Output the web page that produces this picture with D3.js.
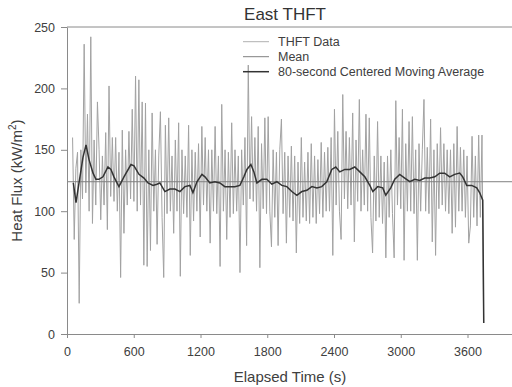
<!DOCTYPE html>
<html>
<head>
<meta charset="utf-8">
<script src="https://cdn.jsdelivr.net/npm/d3@7"></script>
<style>
  body { margin: 0; background: #fff; }
  svg { display: block; font-family: "Liberation Sans", Arial, sans-serif; }
</style>
</head>
<body>
<svg id="chart" width="512" height="387"></svg>
<script>
// THFT samples: first sample time and sampling step (s), values in kW/m2
const thftStart = 50;
const thftStep = 14.9;
const thftValues = [
  160, 77, 135, 148, 25, 150,   110, 236, 115, 179, 100, 242,
  90, 158, 105, 189, 150, 93,   145, 105, 164, 85, 202, 112,
  160, 108, 160, 100, 148, 46,  166, 82, 150, 105, 165, 110,
  183, 108, 210, 100, 207, 105, 189, 56, 188, 55, 150, 68,
  180, 100, 150, 73, 145, 181,  95, 46, 170, 98, 176, 100,
  145, 82, 158, 100, 172, 47,   150, 98, 145, 95, 170, 64,
  150, 92, 148, 100, 155, 79,   169, 105, 160, 100, 150, 74,
  150, 100, 169, 98, 145, 55,   187, 100, 150, 77, 148, 95,
  172, 98, 150, 100, 145, 50,   150, 105, 160, 72, 219, 110,
  177, 108, 160, 100, 169, 54,  155, 102, 176, 98, 177, 100,
  71, 150, 95, 148, 72, 150,    175, 98, 148, 74, 145, 95,
  153, 92, 145, 66, 140, 90,    160, 95, 140, 92, 148, 90,
  155, 95, 145, 90, 142, 98,    156, 95, 148, 100, 152, 100,
  160, 64, 183, 105, 165, 100,  77, 195, 110, 165, 102, 160,
  105, 180, 75, 158, 108, 191,  100, 150, 105, 179, 100, 176,
  95, 66, 145, 92, 173, 95,     145, 90, 140, 62, 145, 95,
  150, 98, 62, 190, 105, 160,   102, 183, 60, 155, 100, 173,
  100, 177, 98, 150, 60, 155,   100, 150, 191, 100, 152, 98,
  175, 75, 150, 64, 155, 102,   168, 105, 155, 100, 150, 98,
  150, 82, 155, 87, 169, 100,   152, 100, 150, 95, 145, 74,
  88, 161, 95, 145, 88, 162,    95, 162, 9
];

// 80-second centered moving average
const maTimes = [57, 81, 108, 144, 171, 198, 234, 260, 287, 323, 368, 395, 422, 467, 512,
  575, 602, 647, 692, 728, 773, 808, 835, 880, 925, 970, 1015, 1060, 1105, 1132, 1168,
  1213, 1240, 1284, 1329, 1374, 1419, 1464, 1509, 1554, 1590, 1617, 1653, 1680, 1707,
  1752, 1796, 1841, 1886, 1931, 1976, 2021, 2066, 2111, 2156, 2201, 2246, 2290, 2335,
  2380, 2416, 2452, 2497, 2542, 2587, 2632, 2677, 2722, 2749, 2793, 2838, 2865, 2910,
  2946, 2991, 3036, 3081, 3126, 3171, 3216, 3261, 3306, 3350, 3395, 3440, 3485, 3530,
  3557, 3593, 3638, 3683, 3710, 3737, 3746];
const maValues = [123, 107, 123, 144, 154, 142, 131, 126, 126, 128, 136, 134, 128, 120, 128,
  138, 137, 130, 127, 123, 121, 122, 123, 116, 118, 118, 116, 120, 121, 115, 124,
  130, 128, 123, 124, 123, 120, 120, 120, 121, 128, 134, 138, 132, 123,
  126, 126, 122, 124, 121, 120, 116, 113, 116, 117, 120, 119, 120, 124,
  134, 136, 132, 134, 134, 136, 132, 128, 121, 116, 120, 119, 113, 119,
  126, 130, 127, 124, 126, 125, 127, 127, 128, 131, 131, 128, 130, 131,
  128, 121, 121, 119, 115, 109, 9];

const meanValue = 124;

const xTicks = [0, 600, 1200, 1800, 2400, 3000, 3600];
const yTicks = [0, 50, 100, 150, 200, 250];
const legendLabels = ["THFT Data", "Mean", "80-second Centered Moving Average"];

const margin = {top: 27, right: 0, bottom: 53, left: 67};
const width = 512, height = 387;
const svg = d3.select("#chart");
const axisColor = "#8a8a8a";
const textColor = "#404040";

const x = d3.scaleLinear().domain([0, 4000]).range([margin.left, width - margin.right]);
const y = d3.scaleLinear().domain([0, 250]).range([height - margin.bottom, margin.top]);

const thft = thftValues.map((v, i) => ({t: thftStart + i * thftStep, v}));
const ma = maTimes.map((t, i) => ({t, v: maValues[i]}));

const line = d3.line().x(d => x(d.t)).y(d => y(d.v));

// data
svg.append("path").datum(thft)
  .attr("d", line)
  .attr("fill", "none")
  .attr("stroke", "#a2a2a2")
  .attr("stroke-width", 1);

svg.append("line")
  .attr("x1", x(0)).attr("x2", x(4000))
  .attr("y1", y(meanValue)).attr("y2", y(meanValue))
  .attr("stroke", "#808080").attr("stroke-width", 1);

svg.append("path").datum(ma)
  .attr("d", line)
  .attr("fill", "none")
  .attr("stroke", "#333")
  .attr("stroke-width", 1.5);

// frame top
svg.append("line")
  .attr("x1", x(0)).attr("x2", x(4000))
  .attr("y1", y(250)).attr("y2", y(250))
  .attr("stroke", axisColor);

// axes
const gx = svg.append("g")
  .attr("transform", `translate(0,${y(0)})`)
  .call(d3.axisBottom(x).tickValues(xTicks).tickFormat(d3.format("d"))
    .tickSize(4).tickSizeOuter(0).tickPadding(9));
const gy = svg.append("g")
  .attr("transform", `translate(${x(0)},0)`)
  .call(d3.axisLeft(y).tickValues(yTicks).tickSize(6).tickSizeOuter(0).tickPadding(6));

[gx, gy].forEach(g => {
  g.select(".domain").attr("stroke", axisColor);
  g.selectAll(".tick line").attr("stroke", axisColor);
  g.selectAll(".tick text")
    .attr("fill", textColor)
    .style("font-size", "12.5px")
    .style("font-family", "'Liberation Sans', Arial, sans-serif");
});

// title and axis labels
svg.append("text")
  .attr("x", 285).attr("y", 20)
  .attr("text-anchor", "middle")
  .attr("fill", "#333")
  .style("font-size", "17px")
  .text("East THFT");

svg.append("text")
  .attr("x", 290).attr("y", 382)
  .attr("text-anchor", "middle")
  .attr("fill", textColor)
  .style("font-size", "15px")
  .text("Elapsed Time (s)");

const yl = svg.append("text")
  .attr("transform", `translate(22,${(y(0) + y(250)) / 2}) rotate(-90)`)
  .attr("text-anchor", "middle")
  .attr("fill", textColor)
  .style("font-size", "15px");
yl.append("tspan").text("Heat Flux (kW/m");
yl.append("tspan").attr("dy", -6).style("font-size", "10px").text("2");
yl.append("tspan").attr("dy", 6).text(")");

// legend
const legendStyles = [
  {stroke: "#b0b0b0", w: 1},
  {stroke: "#808080", w: 1},
  {stroke: "#333", w: 1.5}
];
const lg = svg.append("g");
legendLabels.forEach((label, i) => {
  const cy = 41.7 + i * 15;
  lg.append("line")
    .attr("x1", 243).attr("x2", 269)
    .attr("y1", cy).attr("y2", cy)
    .attr("stroke", legendStyles[i].stroke)
    .attr("stroke-width", legendStyles[i].w);
  lg.append("text")
    .attr("x", 278).attr("y", cy + 4.5)
    .attr("fill", textColor)
    .style("font-size", "12.5px")
    .text(label);
});
</script>
</body>
</html>
